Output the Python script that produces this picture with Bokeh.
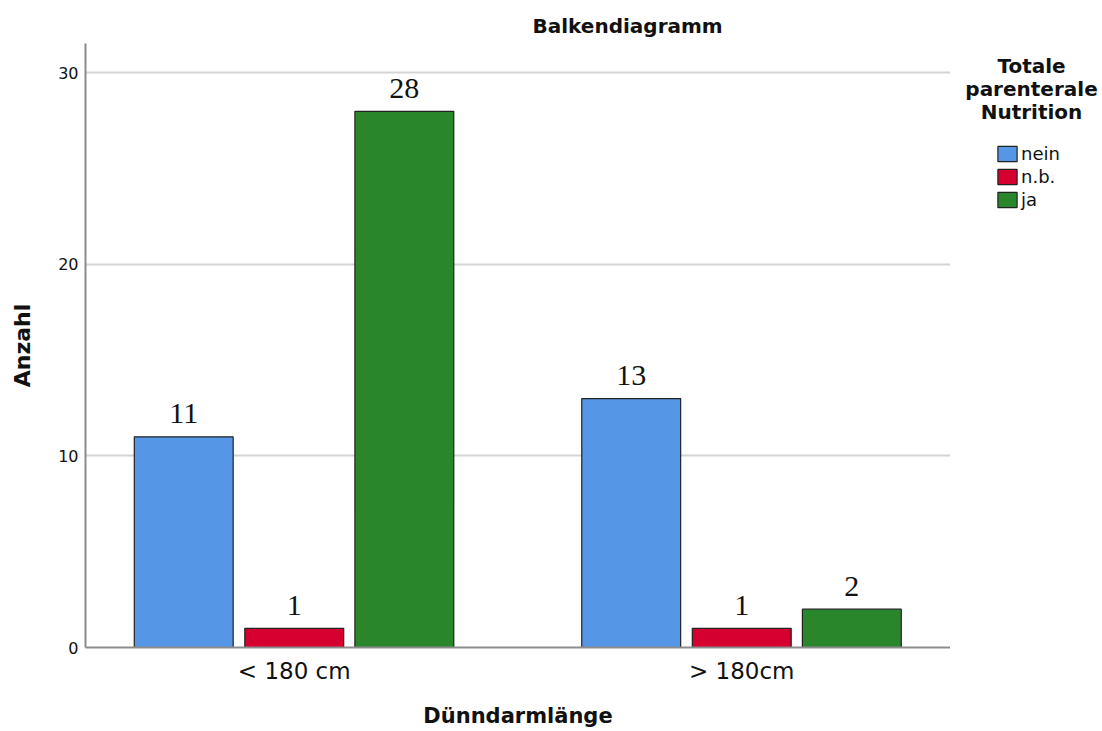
from bokeh.plotting import figure
from bokeh.layouts import row
from bokeh.models import (ColumnDataSource, Legend, LegendItem, FactorRange, Range1d,
                          FixedTicker, Label)
from bokeh.transform import dodge
from bokeh.core.properties import value
from bokeh.embed import file_html
from bokeh.resources import INLINE

categories = ["< 180 cm", "> 180cm"]
series = ["nein", "n.b.", "ja"]
nein = [11, 13]
nb = [1, 1]
ja = [28, 2]
colors = ["#5596E6", "#D5002F", "#2A862A"]
y_ticks = [0, 10, 20, 30]
legend_title_lines = ["Totale", "parenterale", "Nutrition"]

src = ColumnDataSource(dict(
    cat=categories,
    nein=nein, nb=nb, ja=ja,
    nein_t=[str(v) for v in nein],
    nb_t=[str(v) for v in nb],
    ja_t=[str(v) for v in ja],
))

SANS = "DejaVu Sans"
H = 730
FRAME_TOP = 43
FRAME_BOTTOM = 647

p = figure(
    width=950, height=H,
    x_range=FactorRange(*categories, range_padding=-0.0335, range_padding_units="absolute"),
    y_range=Range1d(0, 31.54),
    output_backend="svg", toolbar_location=None,
    min_border_left=85, min_border_right=0, min_border_top=FRAME_TOP,
    min_border_bottom=H - FRAME_BOTTOM,
)
p.outline_line_color = None
p.background_fill_color = "white"

cols = ["nein", "nb", "ja"]
offsets = [-0.247, 0.0, 0.246]
for col, name, off, c in zip(cols, series, offsets, colors):
    p.vbar(x=dodge("cat", off, range=p.x_range), top=col, width=0.221, bottom=0,
           source=src, fill_color=c, line_color="#222222", line_width=1.2)
    p.text(x=dodge("cat", off, range=p.x_range), y=col, text=col + "_t", source=src,
           text_align="center", text_baseline="alphabetic", y_offset=-23,
           text_font=value("Liberation Serif"), text_font_size="30px", text_color="#111111")

# axes
p.yaxis.ticker = FixedTicker(ticks=y_ticks)
p.ygrid.ticker = FixedTicker(ticks=y_ticks)
p.ygrid.grid_line_color = "#d4d4d4"
p.ygrid.grid_line_width = 2
p.xgrid.grid_line_color = None

for ax in (p.xaxis[0], p.yaxis[0]):
    ax.axis_line_color = "#8c8c8c"
    ax.axis_line_width = 2
    ax.major_tick_line_color = None
    ax.minor_tick_line_color = None
    ax.major_tick_out = 0
    ax.major_tick_in = 0
    ax.axis_label_text_font = SANS
    ax.axis_label_text_font_style = "bold"
    ax.axis_label_text_color = "#111111"
    ax.major_label_text_font = SANS
    ax.major_label_text_color = "#111111"

p.yaxis.axis_label = "Anzahl"
p.yaxis.axis_label_text_font_size = "22px"
p.yaxis.major_label_text_font_size = "16px"
p.yaxis.major_label_standoff = 7
p.yaxis.axis_label_standoff = 20

p.xaxis.axis_label = "Dünndarmlänge"
p.xaxis.axis_label_text_font_size = "21px"
p.xaxis.major_label_text_font_size = "23px"
p.xaxis.major_label_standoff = 10
p.xaxis.axis_label_standoff = 17

# title
p.title.text = "Balkendiagramm"
p.title.text_font = SANS
p.title.text_font_size = "20px"
p.title.text_font_style = "bold"
p.title.text_color = "#111111"
p.title.align = "left"
p.title.offset = 447
p.title.standoff = 11

# legend panel (its frame is aligned with the main frame; y data = page pixels)
LW = 150
q = figure(
    width=LW, height=H,
    x_range=Range1d(0, LW), y_range=Range1d(FRAME_BOTTOM, FRAME_TOP),
    x_axis_location=None, y_axis_location=None,
    output_backend="svg", toolbar_location=None,
    min_border_left=0, min_border_right=0, min_border_top=FRAME_TOP,
    min_border_bottom=H - FRAME_BOTTOM,
)
q.outline_line_color = None
q.xgrid.visible = False
q.ygrid.visible = False

items = []
for col, name, c in zip(cols, series, colors):
    r = q.vbar(x=col, top=col, width=1, source=src, fill_color=c,
               line_color="#222222", line_width=1.2, visible=False)
    items.append(LegendItem(label=name, renderers=[r]))

for txt, yy in zip(legend_title_lines, [65, 88, 111]):
    q.add_layout(Label(x=81, y=yy, text=txt, text_align="center", text_baseline="middle",
                       text_font=SANS, text_font_style="bold", text_font_size="20px",
                       text_color="#111111"))

legend = Legend(
    items=items,
    label_text_font=SANS, label_text_font_size="18px", label_text_color="#111111",
    glyph_width=24, glyph_height=19, label_standoff=2, spacing=2, label_height=20,
    padding=0, margin=0, border_line_color=None, background_fill_color=None,
    location=(45, FRAME_BOTTOM - 143 - 67),
)
q.add_layout(legend)

layout = row(p, q, spacing=0)
open("out.html", "w").write(file_html(layout, INLINE))
